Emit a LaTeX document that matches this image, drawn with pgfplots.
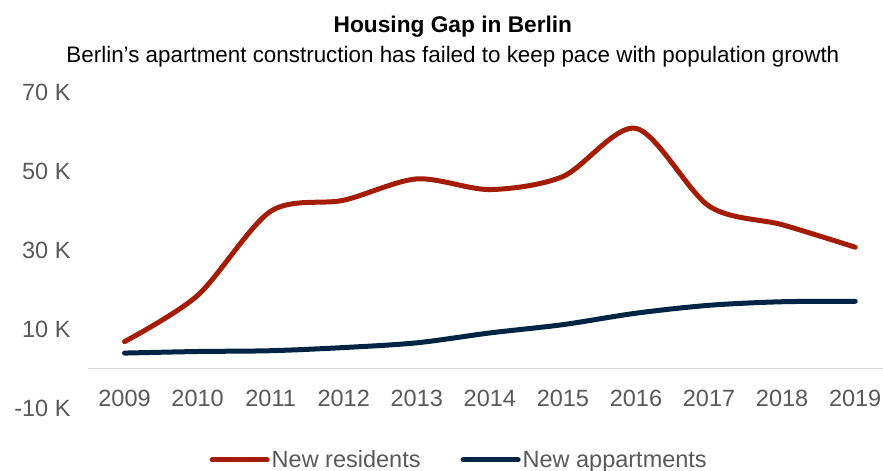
\documentclass[border=0pt]{standalone}
\usepackage{fontspec}
\setmainfont{Liberation Sans}
\usepackage{pgfplots}
\pgfplotsset{compat=1.18}
\definecolor{resred}{RGB}{165,28,4}
\definecolor{aptblue}{RGB}{0,37,68}
\definecolor{tickgray}{RGB}{89,89,89}
\definecolor{zerogray}{RGB}{217,217,217}
\begin{document}
\begin{tikzpicture}
\begin{axis}[
  name=ax,
  scale only axis, width=795pt, height=316pt,
  xmin=2008.5, xmax=2019.38, ymin=-10, ymax=70,
  axis line style={draw=none},
  major tick length=0pt,
  xtick={2009,...,2019},
  xticklabels={2009,2010,2011,2012,2013,2014,2015,2016,2017,2018,2019},
  ytick={-10,10,30,50,70},
  yticklabels={-10 K,10 K,30 K,50 K,70 K},
  extra y ticks={0}, extra y tick labels={},
  extra y tick style={grid=major, major grid style={draw=zerogray, line width=1.5pt}},
  ticklabel style={font=\fontsize{23.5}{26}\selectfont, text=tickgray},
  xticklabel style={anchor=center, yshift=10pt},
  yticklabel style={xshift=-14pt},
  /pgf/number format/assume math mode=true,
  clip=false,
  legend columns=2,
  legend style={draw=none, fill=none, at={(rel axis cs:0.467,0)}, anchor=center, yshift=-52pt,
    font=\fontsize{23.5}{26}\selectfont, text=tickgray,
    /tikz/every even column/.append style={column sep=38pt}},
  legend image code/.code={\draw[#1, line cap=round] (0pt,0pt) -- (55pt,0pt);},
]
\addplot[resred, line width=5pt, smooth, tension=0.5, line cap=round] coordinates {
(2009,6.8) (2010,18.5) (2011,39.8) (2012,42.6) (2013,48.0) (2014,45.3)
(2015,48.6) (2016,60.8) (2017,41.1) (2018,36.4) (2019,30.7)};
\addlegendentry{New residents}
\addplot[aptblue, line width=5pt, smooth, tension=0.5, line cap=round] coordinates {
(2009,3.9) (2010,4.3) (2011,4.5) (2012,5.3) (2013,6.5) (2014,9.0)
(2015,11.1) (2016,14.0) (2017,16.0) (2018,16.9) (2019,17.0)};
\addlegendentry{New appartments}
\coordinate (bl) at (rel axis cs:0,0);
\coordinate (tr) at (rel axis cs:1,1);
\coordinate (tc) at (rel axis cs:0.459,1);
\end{axis}
\node[font=\fontsize{22.7}{26}\selectfont\bfseries, anchor=base] at ([yshift=59pt]tc) {Housing Gap in Berlin};
\node[font=\fontsize{22.4}{26}\selectfont, anchor=base] at ([yshift=29pt]tc) {Berlin’s apartment construction has failed to keep pace with population growth};
\pgfresetboundingbox
\path ([xshift=-88pt,yshift=-63pt]bl) rectangle ([yshift=92pt]tr);
\end{tikzpicture}
\end{document}
